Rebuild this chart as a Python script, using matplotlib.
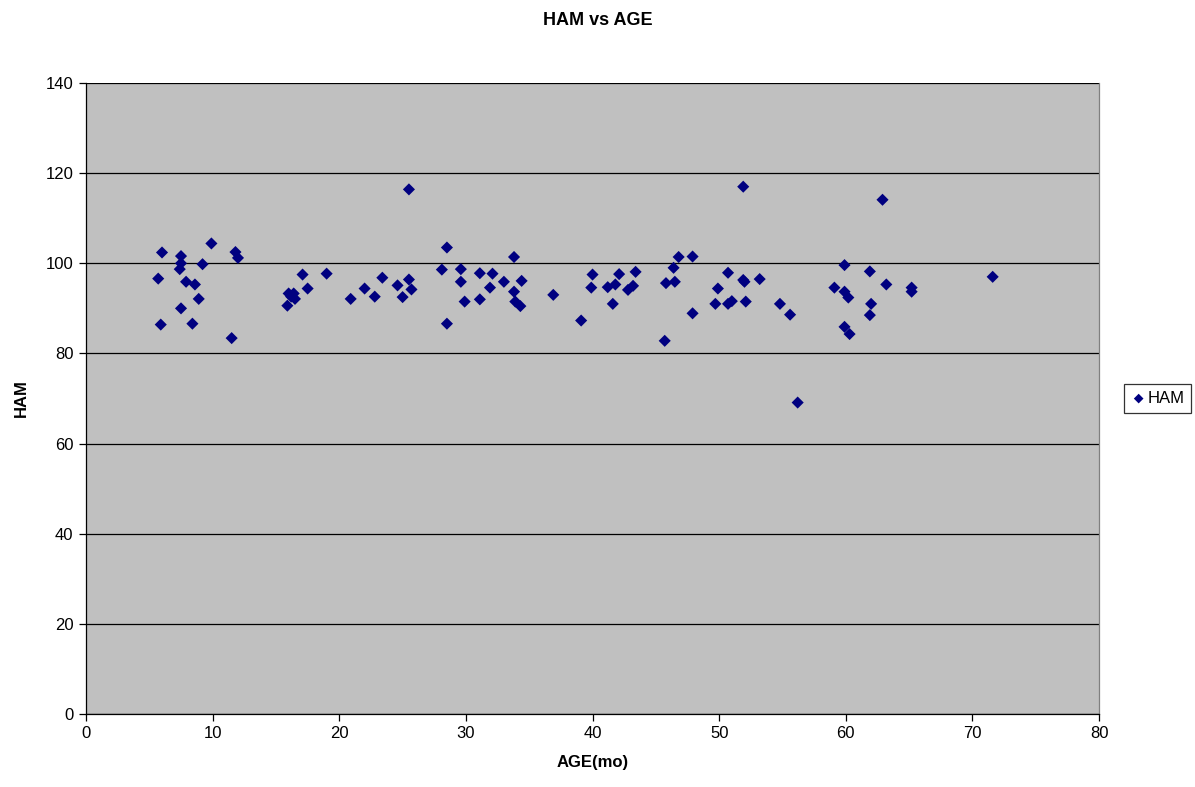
import matplotlib
matplotlib.use("Agg")
import matplotlib.pyplot as plt

plt.rcParams['font.family'] = ['Liberation Sans', 'DejaVu Sans']

# age in months and HAM score per subject
age = [5.7, 6.0, 5.9, 7.5, 7.5, 7.4, 9.2, 9.9, 7.9, 8.6, 8.9, 7.5, 8.4, 11.5,
       11.8, 12.0, 17.1, 19.0, 17.5, 16.0, 16.4, 16.5, 15.9, 16.2, 20.9, 22.0,
       22.8, 23.4, 24.6, 25.5, 28.5, 33.8, 25.5, 25.7, 25.0, 28.1, 29.6, 29.6,
       29.9, 31.1, 32.1, 31.9, 33.0, 31.1, 34.4, 33.8, 33.9, 34.3, 28.5, 36.9,
       39.1, 40.0, 39.9, 41.2, 41.8, 41.6, 42.1, 43.4, 42.8, 43.2, 45.7, 45.8,
       46.5, 46.4, 46.8, 47.9, 47.9, 49.9, 49.7, 50.7, 50.7, 51.0, 51.9, 52.0,
       52.1, 53.2, 54.8, 55.6, 51.9, 62.9, 56.2, 59.9, 61.9, 63.2, 65.2, 65.2,
       59.1, 59.9, 60.2, 62.0, 61.9, 59.9, 60.3, 71.6]
ham = [96.6, 102.4, 86.4, 101.6, 100.0, 98.7, 99.8, 104.4, 95.9, 95.3, 92.1,
       90.0, 86.6, 83.4, 102.5, 101.2, 97.5, 97.7, 94.4, 93.3, 93.3, 92.1, 90.6,
       92.6, 92.1, 94.4, 92.6, 96.8, 95.1, 116.4, 103.5, 101.4, 96.4, 94.2,
       92.5, 98.6, 98.7, 95.9, 91.5, 97.8, 97.7, 94.6, 95.9, 92.0, 96.1, 93.7,
       91.5, 90.5, 86.6, 93.0, 87.3, 97.5, 94.6, 94.7, 95.3, 91.0, 97.6, 98.1,
       94.1, 95.0, 82.8, 95.6, 95.9, 99.0, 101.4, 101.5, 88.9, 94.4, 91.0,
       97.9, 91.0, 91.6, 96.3, 95.9, 91.5, 96.5, 91.0, 88.6, 117.0, 114.1,
       69.1, 99.6, 98.2, 95.3, 94.6, 93.7, 94.6, 93.7, 92.4, 91.0, 88.5, 85.9,
       84.3, 97.0]

fig = plt.figure(figsize=(11.95, 7.87), dpi=100)
ax = fig.add_axes([0.072, 0.0928, 0.8477, 0.8017])
ax.set_facecolor('#C0C0C0')

ax.scatter(age, ham, marker='D', s=38, color='#000080', edgecolors='none',
           label='HAM', zorder=3)

ax.set_xlim(0, 80)
ax.set_ylim(0, 140)
ax.set_xticks(range(0, 81, 10))
ax.set_yticks(range(0, 141, 20))
ax.yaxis.grid(True, color='black', linewidth=0.9)
ax.set_axisbelow(True)
ax.spines['top'].set_visible(False)
ax.spines['right'].set_color('#808080')
ax.spines['right'].set_linewidth(0.9)
for side in ['left', 'bottom']:
    ax.spines[side].set_color('black')
    ax.spines[side].set_linewidth(0.9)
ax.tick_params(direction='out', length=5, width=0.9, labelsize=12, pad=4)

ax.set_xlabel('AGE(mo)', fontsize=12, fontweight='bold', labelpad=10)
ax.set_ylabel('HAM', fontsize=12, fontweight='bold', labelpad=12)
fig.suptitle('HAM vs AGE', fontsize=13, fontweight='bold', y=0.985)

leg = fig.legend(loc='center left', bbox_to_anchor=(0.941, 0.4937),
                 fontsize=12, frameon=True, fancybox=False, handletextpad=0.1,
                 borderpad=0.4, borderaxespad=0, handlelength=0.9,
                 markerscale=0.8)
leg.get_frame().set_edgecolor('black')
leg.get_frame().set_linewidth(0.9)

fig.savefig('out.png', dpi=100)
